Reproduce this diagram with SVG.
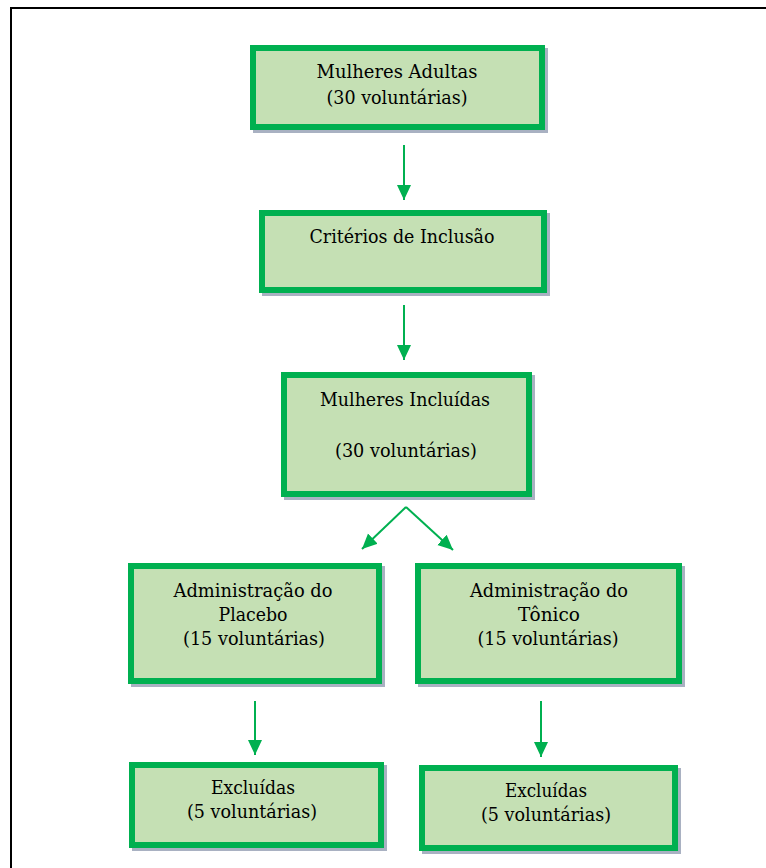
<svg xmlns="http://www.w3.org/2000/svg" width="766" height="868" viewBox="0 0 766 868">
<defs>
<style>
.shadow{fill:#a9b1c2;}
.box{fill:#c5e0b4;stroke:#00b050;stroke-width:6;}
.t{font-family:"DejaVu Serif","Liberation Serif",serif;font-size:18px;fill:#000;text-anchor:middle;}
.conn{stroke:#00b050;stroke-width:2;fill:none;}
</style>
<marker id="ah" markerUnits="userSpaceOnUse" markerWidth="16" markerHeight="16" viewBox="0 0 16 16" refX="15" refY="8" orient="auto">
<path d="M0,1 L15,8 L0,15 Z" fill="#00b050"/>
</marker>
</defs>
<rect width="766" height="868" fill="#fff"/>
<path d="M11,868 V8 H766" fill="none" stroke="#000" stroke-width="2"/>

<g id="connectors">
<line class="conn" x1="404" y1="145" x2="404" y2="200" marker-end="url(#ah)"/>
<line class="conn" x1="404" y1="305" x2="404" y2="360" marker-end="url(#ah)"/>
<line class="conn" x1="406" y1="507" x2="362" y2="549" marker-end="url(#ah)"/>
<line class="conn" x1="406" y1="507" x2="453" y2="550" marker-end="url(#ah)"/>
<line class="conn" x1="255" y1="701" x2="255" y2="755" marker-end="url(#ah)"/>
<line class="conn" x1="541" y1="701" x2="541" y2="757" marker-end="url(#ah)"/>
</g>

<g id="n1">
<rect class="shadow" x="253" y="48" width="295" height="85"/>
<rect class="box" x="253" y="48" width="289" height="79"/>
<text class="t" x="397" y="78" textLength="161" lengthAdjust="spacingAndGlyphs">Mulheres Adultas</text>
<text class="t" x="397" y="104" textLength="141" lengthAdjust="spacingAndGlyphs">(30 voluntárias)</text>
</g>

<g id="n2">
<rect class="shadow" x="262" y="213" width="288" height="83"/>
<rect class="box" x="262" y="213" width="282" height="77"/>
<text class="t" x="402" y="243" textLength="185" lengthAdjust="spacingAndGlyphs">Critérios  de Inclusão</text>
</g>

<g id="n3">
<rect class="shadow" x="284" y="375" width="251" height="125"/>
<rect class="box" x="284" y="375" width="245" height="119"/>
<text class="t" x="405" y="406" textLength="170" lengthAdjust="spacingAndGlyphs">Mulheres Incluídas</text>
<text class="t" x="406" y="457" textLength="142" lengthAdjust="spacingAndGlyphs">(30  voluntárias)</text>
</g>

<g id="n4">
<rect class="shadow" x="131" y="566" width="254" height="121"/>
<rect class="box" x="131" y="566" width="248" height="115"/>
<text class="t" x="253" y="597" textLength="159" lengthAdjust="spacingAndGlyphs">Administração do</text>
<text class="t" x="253" y="621" textLength="69" lengthAdjust="spacingAndGlyphs">Placebo</text>
<text class="t" x="254" y="645" textLength="142" lengthAdjust="spacingAndGlyphs">(15 voluntárias)</text>
</g>

<g id="n5">
<rect class="shadow" x="418" y="566" width="267" height="121"/>
<rect class="box" x="418" y="566" width="261" height="115"/>
<text class="t" x="549" y="597" textLength="158" lengthAdjust="spacingAndGlyphs">Administração do</text>
<text class="t" x="549" y="621" textLength="62" lengthAdjust="spacingAndGlyphs">Tônico</text>
<text class="t" x="548" y="645" textLength="141" lengthAdjust="spacingAndGlyphs">(15 voluntárias)</text>
</g>

<g id="n6">
<rect class="shadow" x="132" y="765" width="255" height="86"/>
<rect class="box" x="132" y="765" width="249" height="80"/>
<text class="t" x="253" y="794" textLength="84" lengthAdjust="spacingAndGlyphs">Excluídas</text>
<text class="t" x="252" y="818" textLength="130" lengthAdjust="spacingAndGlyphs">(5 voluntárias)</text>
</g>

<g id="n7">
<rect class="shadow" x="422" y="768" width="259" height="86"/>
<rect class="box" x="422" y="768" width="253" height="80"/>
<text class="t" x="546" y="797" textLength="82" lengthAdjust="spacingAndGlyphs">Excluídas</text>
<text class="t" x="546" y="821" textLength="130" lengthAdjust="spacingAndGlyphs">(5 voluntárias)</text>
</g>
</svg>
